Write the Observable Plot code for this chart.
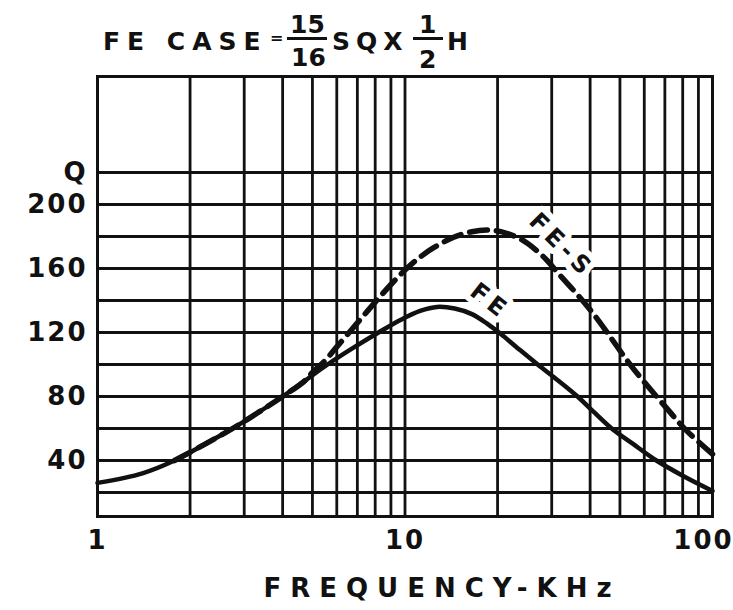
<!DOCTYPE html>
<html><head><meta charset="utf-8">
<script src="https://cdn.jsdelivr.net/npm/d3@7"></script>
<script src="https://cdn.jsdelivr.net/npm/@observablehq/plot@0.6"></script>
<style>
body{margin:0;background:#fff;}
#wrap{position:relative;width:733px;height:610px;font-family:"DejaVu Sans",sans-serif;font-weight:bold;color:#111;}
#wrap svg{position:absolute;left:0;top:0;}
.t{position:absolute;font-size:25px;line-height:25px;white-space:nowrap;}
.bar{position:absolute;height:3px;background:#111;}
</style></head><body>
<div id="wrap"></div>
<script>
// ---- data ----
const freqFE = [1, 1.4, 1.78, 2.2, 2.75, 3.3, 4, 4.7, 5.6, 6.8, 8.2, 9.7, 11.2, 12.7, 14.5, 16.5, 18.5, 20.5, 23, 27, 31, 36.4, 41, 47, 55, 65.7, 80, 100];
const qFE    = [26, 32, 40, 49.5, 60, 69.5, 80, 89.5, 100, 110.5, 120, 128, 133.5, 136, 135, 131.5, 125.5, 119, 111, 100, 91, 80, 70.5, 60, 50.5, 40, 30.5, 21];
const freqFES = [1.78, 2.2, 2.75, 3.3, 4, 4.7, 5, 5.5, 6, 7, 8, 9, 10, 11, 12.4, 14.4, 16.5, 18.5, 20.5, 23.7, 26.5, 29, 31, 37, 42, 47, 53, 60, 70, 82, 100];
const qFES    = [40, 49.5, 60, 69.5, 80, 89.5, 95, 102.5, 111, 126, 139, 150, 159, 166, 173, 179.5, 183, 184, 183, 178.5, 172, 165, 158.5, 142, 129, 116, 102, 89, 74, 59, 44];
const xGrid = [2, 3, 4, 5, 6, 7, 8, 9, 10, 20, 30, 40, 50, 60, 70, 80, 90];
const yGrid = [20, 40, 60, 80, 100, 120, 140, 160, 180, 200, 220];
const xTicks = [1, 10];
const xTicksEnd = [100];
const yTicks = [40, 80, 120, 160, 200, 220];
const yTickLabels = ["40", "80", "120", "160", "200", "Q"];
const curveLabels = ["FE", "FE-S"];
const labelFreq = [18.9, 32.3];
const labelQ = [139.4, 174.4];
const labelAngle = [38, 45];
const xLabel = "FREQUENCY-KHz";
const titleMain = "FE CASE";
const titleEq = "=";
const frac1 = ["15", "16"];
const titleMid = "SQX";
const frac2 = ["1", "2"];
const titleEnd = "H";

// ---- build ----
const fe = freqFE.map((f, i) => ({f, q: qFE[i]}));
const fes = freqFES.map((f, i) => ({f, q: qFES[i]}));
const labels = curveLabels.map((t, i) => ({t, f: labelFreq[i], q: labelQ[i], a: labelAngle[i]}));
const ink = "#111";

const chart = Plot.plot({
  width: 733, height: 610,
  marginLeft: 97, marginRight: 21, marginTop: 76, marginBottom: 94,
  x: {type: "log", domain: [1, 100]},
  y: {domain: [5, 280]},
  style: {fontFamily: '"DejaVu Sans", sans-serif', fontWeight: "bold", color: ink, background: "white", overflow: "visible"},
  marks: [
    Plot.ruleX(xGrid, {stroke: ink, strokeWidth: 2.8}),
    Plot.ruleY(yGrid, {stroke: ink, strokeWidth: 2.8}),
    Plot.text(labels, {x: "f", y: "q", text: "t", rotate: "a", fontSize: 24, fill: ink, stroke: "white", strokeWidth: 12, paintOrder: "stroke"}),
    Plot.line(fes, {x: "f", y: "q", curve: "catmull-rom", stroke: ink, strokeWidth: 5.5, strokeDasharray: "18,9"}),
    Plot.line(fe, {x: "f", y: "q", curve: "catmull-rom", stroke: ink, strokeWidth: 4.5}),
    Plot.frame({stroke: ink, strokeWidth: 3}),
    Plot.axisX(xTicks, {tickSize: 0, tickPadding: 14, fontSize: 26, tickFormat: d => String(d), label: null}),
    Plot.axisX(xTicksEnd, {tickSize: 0, tickPadding: 14, fontSize: 26, dx: -9, tickFormat: d => String(d), label: null}),
    Plot.axisY(yTicks, {tickSize: 0, tickPadding: 10, fontSize: 26, tickFormat: d => yTickLabels[yTicks.indexOf(d)], label: null}),
    Plot.text([xLabel], {frameAnchor: "bottom", lineAnchor: "middle", dx: 37, dy: 72, fontSize: 26, text: d => d, fill: ink})
  ]
});

d3.select(chart).selectAll("text").style("letter-spacing", "2px");
d3.select(chart).selectAll("text").filter(function() { return this.textContent === xLabel; }).style("letter-spacing", "9px");
d3.select(chart).selectAll("text").filter(function() { return curveLabels.includes(this.textContent); }).style("letter-spacing", "5px");

const wrap = document.getElementById("wrap");
wrap.appendChild(chart);

function addText(txt, left, top, size, spacing) {
  const s = document.createElement("span");
  s.className = "t";
  s.textContent = txt;
  s.style.left = left + "px";
  s.style.top = top + "px";
  s.style.fontSize = size + "px";
  s.style.lineHeight = size + "px";
  s.style.letterSpacing = spacing + "px";
  wrap.appendChild(s);
}
function addBar(left, top, width) {
  const b = document.createElement("div");
  b.className = "bar";
  b.style.left = left + "px";
  b.style.top = top + "px";
  b.style.width = width + "px";
  wrap.appendChild(b);
}
addText(titleMain, 103, 29, 25, 7);
addText(titleEq, 270, 30, 16, 0);
addText(frac1[0], 290, 12, 25, 0);
addBar(287, 37, 40);
addText(frac1[1], 291, 45, 25, 0);
addText(titleMid, 332, 29, 25, 6);
addText(frac2[0], 419, 12, 25, 0);
addBar(413, 37, 30);
addText(frac2[1], 419, 47, 25, 0);
addText(titleEnd, 447, 29, 25, 0);
</script>
</body></html>
